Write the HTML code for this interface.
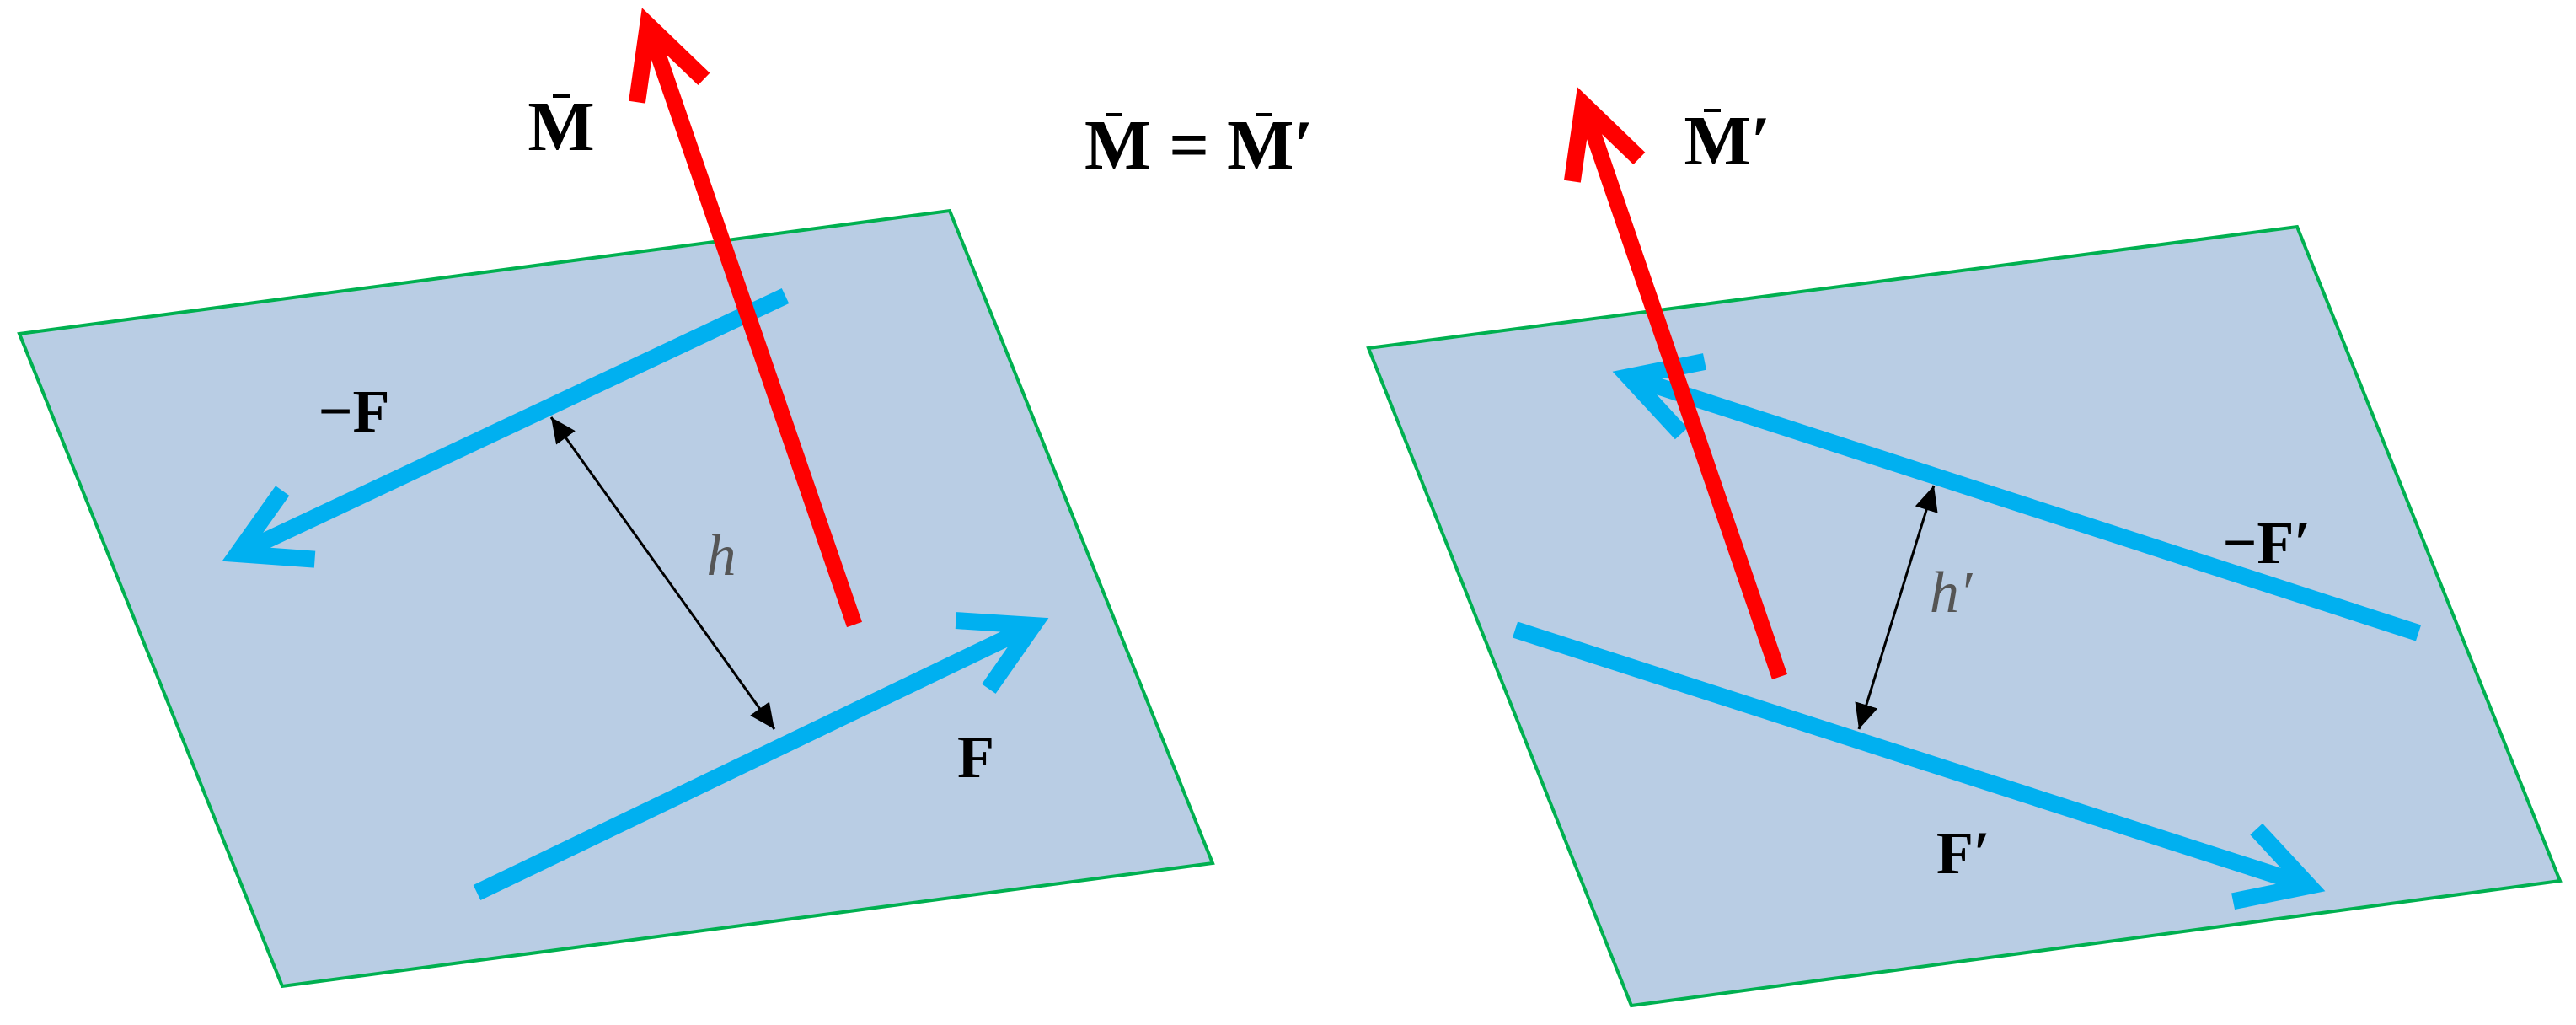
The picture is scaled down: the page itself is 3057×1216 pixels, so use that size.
<!DOCTYPE html>
<html><head><meta charset="utf-8"><style>html,body{margin:0;padding:0;background:#fff}svg{display:block}</style></head>
<body>
<svg width="3057" height="1216" viewBox="0 0 3057 1216" xmlns="http://www.w3.org/2000/svg">
<defs>
<marker id="hb" markerUnits="userSpaceOnUse" markerWidth="200" markerHeight="200" refX="100" refY="100" orient="auto" viewBox="0 0 200 200">
<polyline points="20,55 100,100 20,145" fill="none" stroke="#00b0f0" stroke-width="20" stroke-linejoin="miter"/>
</marker>
<marker id="hr" markerUnits="userSpaceOnUse" markerWidth="200" markerHeight="200" refX="100" refY="100" orient="auto" viewBox="0 0 200 200">
<polyline points="18,58 100,100 18,142" fill="none" stroke="#ff0000" stroke-width="20"/>
</marker>
<marker id="hk" markerUnits="userSpaceOnUse" markerWidth="60" markerHeight="60" refX="30" refY="30" orient="auto-start-reverse" viewBox="0 0 60 60">
<polygon points="0,16 30,30 0,44" fill="#000"/>
</marker>
</defs>
<polygon points="23,396 1127,250 1439,1024 335,1170" fill="#b9cde4" stroke="#00b050" stroke-width="4"/>
<polygon points="1624,413 2726,269 3038,1045 1936,1193" fill="#b9cde4" stroke="#00b050" stroke-width="4"/>
<!-- left -->
<line x1="932" y1="351" x2="282" y2="657" stroke="#00b0f0" stroke-width="20" marker-end="url(#hb)"/>
<line x1="566" y1="1059" x2="1226" y2="742" stroke="#00b0f0" stroke-width="20" marker-end="url(#hb)"/>
<line x1="654" y1="495" x2="919" y2="865" stroke="#000" stroke-width="3" marker-start="url(#hk)" marker-end="url(#hk)"/>
<line x1="1014" y1="741" x2="769" y2="30" stroke="#ff0000" stroke-width="19" marker-end="url(#hr)"/>
<!-- right -->
<line x1="2870" y1="751" x2="1933" y2="447" stroke="#00b0f0" stroke-width="20" marker-end="url(#hb)"/>
<line x1="1798" y1="747" x2="2740" y2="1051" stroke="#00b0f0" stroke-width="20" marker-end="url(#hb)"/>
<line x1="2295" y1="576" x2="2206" y2="865" stroke="#000" stroke-width="3" marker-start="url(#hk)" marker-end="url(#hk)"/>
<line x1="2112" y1="803" x2="1879" y2="124" stroke="#ff0000" stroke-width="19" marker-end="url(#hr)"/>
<g font-family="Liberation Serif, serif" font-weight="bold" font-size="84" fill="#000">
<text x="666" y="178" text-anchor="middle">M</text>
<line x1="656" y1="114" x2="676" y2="114" stroke="#000" stroke-width="4"/>
<text x="1287" y="200">M = M′</text>
<line x1="1312" y1="136" x2="1332" y2="136" stroke="#000" stroke-width="4"/>
<line x1="1490" y1="136" x2="1510" y2="136" stroke="#000" stroke-width="4"/>
<text x="2050" y="195" text-anchor="middle">M′</text>
<line x1="2022" y1="131" x2="2042" y2="131" stroke="#000" stroke-width="4"/>
<text x="420" y="512" text-anchor="middle" font-size="72">−F</text>
<text x="1158" y="922" text-anchor="middle" font-size="72">F</text>
<text x="2690" y="668" text-anchor="middle" font-size="72">−F′</text>
<text x="2330" y="1036" text-anchor="middle" font-size="72">F′</text>
<text x="856" y="682" text-anchor="middle" font-size="70" font-weight="normal" font-style="italic" fill="#555">h</text>
<text x="2315" y="726" text-anchor="middle" font-size="70" font-weight="normal" font-style="italic" fill="#555">h′</text>
</g>
</svg>
</body></html>
